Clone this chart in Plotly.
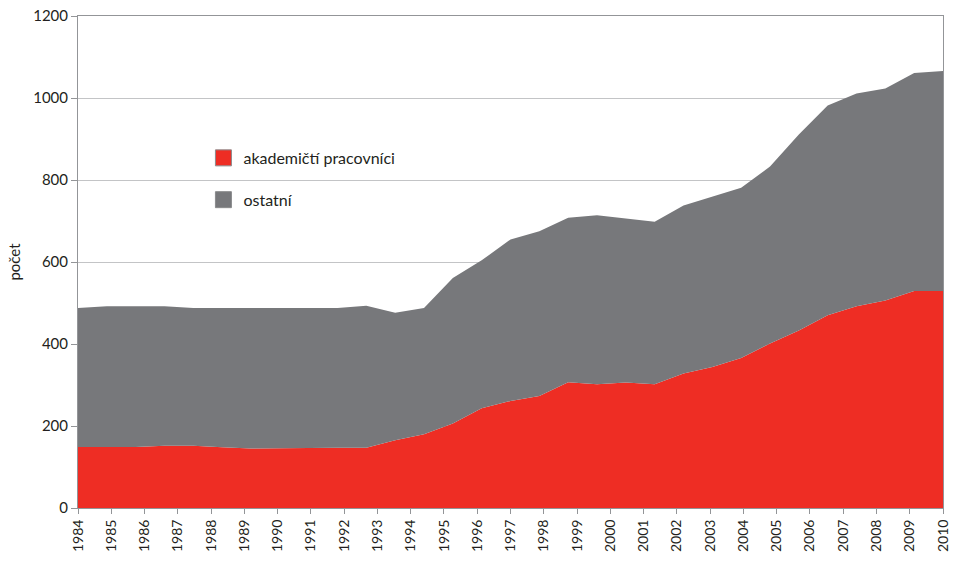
import numpy as np
import plotly.graph_objects as go

# Year tick labels shown on the x axis
years = list(range(1984, 2011))

# Data points (31 samples spread evenly across 1984–2010, as in the original chart)
akademicti = [149, 149, 149, 152, 152, 148, 145, 146, 147, 147, 147, 165, 180, 206, 243,
              261, 273, 307, 302, 306, 302, 328, 344, 366, 401, 433, 470, 492, 506, 529, 529]
ostatni = [339, 343, 343, 340, 336, 340, 343, 342, 341, 341, 346, 311, 308, 355, 361,
           394, 402, 401, 412, 400, 396, 410, 416, 415, 432, 478, 512, 519, 517, 532, 537]

series_names = ["akademičtí pracovníci", "ostatní"]
colors = ["#EE2D24", "#77787B"]

x = np.linspace(years[0], years[-1], len(akademicti))

FONT = "Lato, 'Open Sans', sans-serif"
TXT = "#231F20"
AX = "#939598"
GRID = "#C3C4C6"

fig = go.Figure()
for name, vals, col in zip(series_names, [akademicti, ostatni], colors):
    fig.add_trace(go.Scatter(
        x=x, y=vals, name=name, mode="lines", stackgroup="one",
        line=dict(width=0, color=col), fillcolor=col, showlegend=False,
        hoverinfo="x+y+name"))
# legend swatches
for name, col in zip(series_names, colors):
    fig.add_trace(go.Scatter(
        x=[None], y=[None], name=name, mode="markers",
        marker=dict(symbol="square", size=16, color=col, line=dict(color="#8A8B8D", width=1)),
        legendgroup=name, showlegend=True))

fig.update_layout(
    width=958, height=567,
    margin=dict(l=78, r=15, t=16, b=59),
    paper_bgcolor="white", plot_bgcolor="white",
    font=dict(family=FONT, color=TXT, size=15),
    showlegend=True,
    legend=dict(x=0.145, y=0.746, xanchor="left", yanchor="top",
                bgcolor="rgba(0,0,0,0)", font=dict(size=16, color=TXT),
                traceorder="grouped", tracegroupgap=18, itemwidth=30),
    xaxis=dict(
        range=[years[0], years[-1]], tickmode="array", tickvals=years,
        ticktext=[str(y) for y in years], tickangle=-90,
        ticks="outside", ticklen=5, tickcolor=AX, showgrid=False,
        showline=True, linecolor=AX, linewidth=1, mirror=True,
        tickfont=dict(size=14, color=TXT), zeroline=False, automargin=False),
    yaxis=dict(
        range=[0, 1200], dtick=200, ticks="outside", ticklen=6, tickcolor=AX,
        showgrid=True, gridcolor=GRID, gridwidth=1,
        showline=True, linecolor=AX, linewidth=1, mirror=True,
        tickfont=dict(size=15, color=TXT), zeroline=False, automargin=False,
        title=dict(text="počet", font=dict(size=15, color=TXT), standoff=8)),
)

# remove the browser's default page margin so the figure fills the window exactly
fig.write_html("out.html", config={"displayModeBar": False},
               post_script="document.body.style.margin='0';document.body.style.overflow='hidden';")
